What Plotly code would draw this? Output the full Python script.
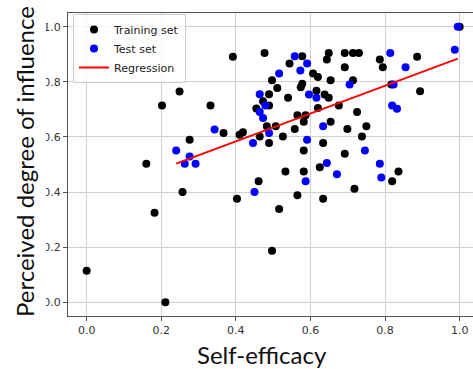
import plotly.graph_objects as go

# Training set: self-efficacy vs. perceived degree of influence
train_x = [0.000, 0.160, 0.182, 0.211, 0.202, 0.249, 0.257, 0.276, 0.332, 0.367,
           0.392, 0.403, 0.410, 0.419, 0.455, 0.461, 0.464, 0.473, 0.477, 0.483,
           0.489, 0.489, 0.489, 0.497, 0.497, 0.507, 0.511, 0.516, 0.526, 0.533,
           0.540, 0.544, 0.558, 0.565, 0.565, 0.574, 0.578, 0.578, 0.582, 0.582,
           0.582, 0.587, 0.607, 0.616, 0.620, 0.620, 0.625, 0.634, 0.634, 0.638,
           0.644, 0.649, 0.649, 0.654, 0.654, 0.676, 0.692, 0.692, 0.692, 0.699,
           0.714, 0.714, 0.718, 0.725, 0.730, 0.738, 0.750, 0.786, 0.794, 0.817,
           0.819, 0.836, 0.886, 0.894, 1.000]
train_y = [0.114, 0.503, 0.325, 0.000, 0.714, 0.765, 0.400, 0.590, 0.714, 0.614,
           0.891, 0.376, 0.608, 0.617, 0.703, 0.439, 0.602, 0.730, 0.905, 0.639,
           0.755, 0.714, 0.578, 0.806, 0.187, 0.639, 0.778, 0.338, 0.602, 0.475,
           0.742, 0.867, 0.629, 0.679, 0.388, 0.780, 0.793, 0.893, 0.655, 0.551,
           0.475, 0.679, 0.830, 0.768, 0.818, 0.705, 0.490, 0.578, 0.376, 0.754,
           0.881, 0.905, 0.742, 0.806, 0.655, 0.714, 0.905, 0.853, 0.539, 0.629,
           0.806, 0.905, 0.412, 0.691, 0.905, 0.602, 0.639, 0.881, 0.853, 0.790,
           0.439, 0.475, 0.891, 0.766, 1.000]

# Test set
test_x = [0.240, 0.263, 0.276, 0.292, 0.343, 0.446, 0.450, 0.464, 0.464, 0.473,
          0.479, 0.489, 0.516, 0.558, 0.573, 0.587, 0.591, 0.591, 0.596, 0.616,
          0.634, 0.644, 0.671, 0.705, 0.746, 0.786, 0.790, 0.814, 0.819, 0.823,
          0.832, 0.855, 0.987, 0.995]
test_y = [0.551, 0.503, 0.529, 0.503, 0.627, 0.578, 0.400, 0.755, 0.691, 0.669,
          0.714, 0.614, 0.830, 0.893, 0.841, 0.439, 0.867, 0.590, 0.754, 0.742,
          0.639, 0.505, 0.465, 0.790, 0.551, 0.503, 0.453, 0.905, 0.714, 0.790,
          0.702, 0.853, 0.917, 1.000]

# Fitted regression line coefficients
reg_slope = 0.505
reg_intercept = 0.382

tick_vals = [0.0, 0.2, 0.4, 0.6, 0.8, 1.0]
tick_text = ["0.0", "0.2", "0.4", "0.6", "0.8", "1.0"]

W, H = 473, 369
ML, MR, MT, MB = 68, 0, 13, 53
plot_w = W - ML - MR
plot_h = H - MT - MB

reg_x = [min(test_x), max(test_x)]
reg_y = [reg_intercept + reg_slope * v for v in reg_x]

fig = go.Figure()
fig.add_trace(go.Scatter(x=train_x, y=train_y, mode="markers", name="Training set",
                         marker=dict(color="#000000", size=8)))
fig.add_trace(go.Scatter(x=test_x, y=test_y, mode="markers", name="Test set",
                         marker=dict(color="#0000ff", size=8)))
fig.add_trace(go.Scatter(x=reg_x, y=reg_y, mode="lines", name="Regression",
                         line=dict(color="#ff0000", width=2)))

axis_common = dict(
    tickvals=tick_vals, ticktext=tick_text,
    showgrid=True, gridcolor="#d0d0d0", gridwidth=1.2,
    zeroline=False, showline=True, linecolor="#555555", linewidth=1.2,
    ticks="outside", ticklen=4, tickwidth=1, tickcolor="#555555",
    tickfont=dict(family="DejaVu Sans", size=11, color="#333333"),
)

fig.update_layout(
    width=W, height=H,
    margin=dict(l=ML, r=MR, t=MT, b=MB),
    paper_bgcolor="white", plot_bgcolor="white",
    xaxis=dict(range=[-0.05, -0.05 + plot_w / 373.0], mirror=True, **axis_common),
    yaxis=dict(range=[-0.05, 1.05], mirror=False, **axis_common),
    showlegend=True,
    legend=dict(
        x=(73 - ML) / plot_w, y=1 - (14 - MT) / plot_h,
        xanchor="left", yanchor="top",
        bgcolor="rgba(255,255,255,0.8)", bordercolor="#cccccc", borderwidth=1,
        font=dict(family="DejaVu Sans", size=11, color="#222222"),
        tracegroupgap=0,
    ),
    shapes=[
        # white strip at the far left edge of the figure
        dict(type="rect", xref="paper", yref="paper", layer="above",
             x0=-ML / plot_w, x1=(46 - ML) / plot_w,
             y0=-MB / plot_h, y1=(H - MB) / plot_h,
             fillcolor="white", line=dict(width=0)),
    ],
    annotations=[
        dict(text="Self-efficacy", xref="paper", yref="paper",
             x=(262 - ML) / plot_w, y=-(354 - (H - MB)) / plot_h,
             xanchor="center", yanchor="middle", showarrow=False,
             font=dict(family="Lato", size=24, color="#111111")),
        dict(text="Perceived degree of influence", xref="paper", yref="paper",
             x=(24 - ML) / plot_w, y=1 - (162 - MT) / plot_h,
             xanchor="center", yanchor="middle", showarrow=False, textangle=-90,
             font=dict(family="Lato", size=24, color="#111111")),
    ],
)

fig.write_html("out.html")
